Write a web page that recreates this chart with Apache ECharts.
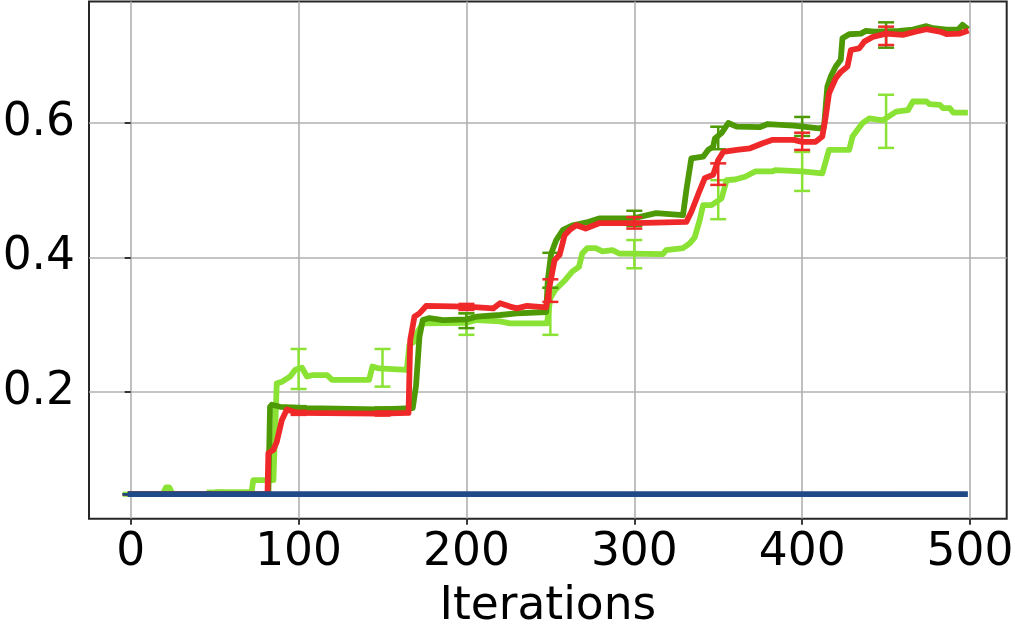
<!DOCTYPE html>
<html>
<head>
<meta charset="utf-8">
<script src="https://cdn.jsdelivr.net/npm/echarts@6/dist/echarts.min.js"></script>
<style>html,body{margin:0;padding:0;background:#fff}#c{width:1015px;height:633px}</style>
</head>
<body>
<div id="c"></div>
<script>
// ---- data ----
const xTicks = [0, 100, 200, 300, 400, 500];
const yTicks = [0.2, 0.4, 0.6];
const xLabel = 'Iterations';

const lightGreen = [[0,0.048],[19,0.048],[21,0.058],[23,0.058],[25,0.048],[50,0.048],[51,0.051],[72,0.051],[73,0.069],[85,0.069],[87,0.213],[90,0.215],[95,0.223],[98,0.233],[102,0.236],[105,0.223],[108,0.225],[117,0.225],[120,0.218],[142,0.218],[144,0.238],[148,0.235],[164.5,0.233],[166,0.27],[169,0.275],[171,0.29],[174,0.302],[200,0.303],[206,0.307],[220,0.305],[226,0.302],[248,0.302],[250,0.34],[253,0.352],[259,0.367],[263,0.379],[267,0.386],[269,0.406],[272,0.414],[277,0.414],[281,0.409],[287,0.411],[291,0.406],[317,0.405],[319,0.411],[329,0.414],[333,0.421],[336,0.43],[339,0.456],[341,0.478],[346,0.478],[352,0.488],[355,0.515],[360,0.516],[366,0.52],[372,0.528],[382,0.528],[384,0.53],[400,0.528],[412,0.525],[416,0.56],[428,0.56],[430,0.58],[436,0.6],[440,0.607],[448,0.604],[456,0.617],[463,0.619],[466,0.632],[474,0.632],[476,0.628],[482,0.627],[484,0.622],[488,0.622],[490,0.6155],[497,0.6155]];
const darkGreen = [[0,0.048],[82,0.048],[83,0.178],[84,0.181],[89,0.178],[105,0.176],[148,0.174],[168,0.176],[170,0.21],[172,0.282],[174,0.307],[178,0.31],[186,0.307],[200,0.308],[206,0.312],[220,0.3145],[230,0.317],[247.5,0.319],[248.5,0.367],[250.5,0.406],[253.5,0.426],[257.5,0.441],[263.5,0.448],[273,0.453],[279,0.458],[299,0.458],[313,0.466],[329,0.463],[331,0.5],[334,0.5475],[341,0.55],[344,0.56],[347,0.565],[348,0.577],[352,0.585],[356,0.6],[361,0.5945],[375,0.594],[379.5,0.5985],[395,0.596],[410,0.592],[413,0.594],[415,0.654],[417,0.669],[420,0.684],[423,0.694],[424,0.726],[428,0.732],[435,0.733],[438,0.737],[443,0.736],[458,0.737],[466,0.739],[474,0.744],[478,0.741],[486,0.739],[493,0.739],[495.5,0.746],[497.5,0.742]];
const red = [[0,0.048],[81.5,0.048],[82,0.109],[85,0.114],[87,0.126],[90,0.158],[93,0.174],[99,0.169],[148,0.168],[165.5,0.169],[166.5,0.277],[169,0.312],[172,0.317],[176,0.328],[200,0.327],[216,0.3244],[220,0.332],[226,0.327],[230,0.3244],[236,0.328],[247.5,0.326],[249.5,0.357],[252.5,0.396],[255.5,0.404],[258.5,0.433],[261.5,0.441],[265.5,0.448],[271,0.443],[279,0.451],[299,0.451],[313,0.452],[331,0.453],[334,0.468],[339,0.5],[342,0.518],[347,0.523],[350,0.545],[353,0.557],[361,0.56],[369,0.5624],[376.5,0.57],[382.5,0.575],[395,0.575],[400,0.572],[408,0.572],[412,0.58],[414,0.609],[416,0.644],[420,0.6665],[423,0.676],[427,0.684],[429,0.7086],[434,0.711],[437,0.721],[442,0.728],[450,0.733],[460,0.731],[468,0.736],[474,0.7395],[482,0.736],[486,0.7323],[494,0.733],[497.5,0.736]];
const blue = [[0,0.048],[497,0.048]];

// error bars: [x, low, high]
const lightGreenErr = [[0,0.046,0.05],[50,0.047,0.053],[100,0.2045,0.264],[150,0.208,0.264],[200,0.285,0.317],[250,0.285,0.355],[300,0.384,0.426],[350,0.457,0.515],[400,0.499,0.557],[450,0.563,0.642]];
const darkGreenErr = [[0,0.048,0.048],[50,0.048,0.048],[100,0.172,0.179],[150,0.171,0.177],[200,0.295,0.317],[250,0.355,0.407],[300,0.447,0.4695],[350,0.561,0.5945],[400,0.5807,0.609],[450,0.712,0.7497]];
const redErr = [[0,0.048,0.048],[50,0.048,0.048],[100,0.166,0.172],[150,0.165,0.171],[200,0.322,0.331],[250,0.334,0.3676],[300,0.443,0.46],[350,0.508,0.54],[400,0.56,0.5856],[450,0.716,0.7433]];
const blueErr = [[0,0.048,0.048],[50,0.048,0.048],[100,0.048,0.048],[150,0.048,0.048],[200,0.048,0.048],[250,0.048,0.048],[300,0.048,0.048],[350,0.048,0.048],[400,0.048,0.048],[450,0.048,0.048]];

// ---- styles ----
const C_LG = '#8ae234', C_DG = '#4e9a06', C_R = '#ef2929', C_B = '#204a87';
const FONT = 'DejaVu Sans';
const LW = 5.8;

function lineSeries(data, color, z) {
  return { type: 'line', data: data, showSymbol: false, symbol: 'none', animation: false, z: z,
    lineStyle: { color: color, width: LW, cap: 'square', join: 'round' } };
}
function errSeries(data, color, z) {
  return { type: 'custom', data: data, animation: false, z: z,
    encode: { x: 0, y: [1, 2] },
    renderItem: function (params, api) {
      const x = api.value(0), lo = api.value(1), hi = api.value(2);
      const p1 = api.coord([x, lo]), p2 = api.coord([x, hi]);
      const hw = 8;
      const st = { stroke: color, lineWidth: 2.5 };
      return { type: 'group', children: [
        { type: 'line', shape: { x1: p1[0], y1: p1[1], x2: p2[0], y2: p2[1] }, style: st },
        { type: 'line', shape: { x1: p1[0]-hw, y1: p1[1], x2: p1[0]+hw, y2: p1[1] }, style: st },
        { type: 'line', shape: { x1: p2[0]-hw, y1: p2[1], x2: p2[0]+hw, y2: p2[1] }, style: st }
      ]};
    }
  };
}

const chart = echarts.init(document.getElementById('c'), null, { renderer: 'canvas' });
chart.setOption({
  animation: false,
  grid: { left: 89, right: 8.3, top: 1.5, bottom: 114.3, show: true, borderColor: '#262626', borderWidth: 2,
          backgroundColor: 'transparent', containLabel: false, outerBoundsMode: 'none' },
  xAxis: {
    type: 'value', min: -24.85, max: 521.85,
    name: xLabel, nameLocation: 'middle', nameGap: 65,
    nameTextStyle: { fontFamily: FONT, fontSize: 45.5, color: '#000' },
    axisLine: { show: false },
    axisTick: { show: true, customValues: xTicks, length: 6, lineStyle: { color: '#262626', width: 1.8 } },
    axisLabel: { show: true, customValues: xTicks, margin: 11, fontFamily: FONT, fontSize: 45.5, color: '#000', showMinLabel: true, showMaxLabel: true },
    splitLine: { show: true, lineStyle: { color: '#b0b0b0', width: 1.6 } }
  },
  yAxis: {
    type: 'value', min: 0.0116, max: 0.7807,
    axisLine: { show: false },
    axisTick: { show: true, customValues: yTicks, length: 6, lineStyle: { color: '#262626', width: 1.8 } },
    axisLabel: { show: true, customValues: yTicks, margin: 14, fontFamily: FONT, fontSize: 45.5, color: '#000',
                 formatter: function (v) { return v.toFixed(1); } },
    splitLine: { show: true, lineStyle: { color: '#b0b0b0', width: 1.6 } }
  },
  series: [
    lineSeries(lightGreen, C_LG, 2), errSeries(lightGreenErr, C_LG, 3),
    lineSeries(darkGreen, C_DG, 4), errSeries(darkGreenErr, C_DG, 5),
    lineSeries(red, C_R, 6), errSeries(redErr, C_R, 7),
    lineSeries(blue, C_B, 8), errSeries(blueErr, C_B, 9)
  ]
});
</script>
</body>
</html>
